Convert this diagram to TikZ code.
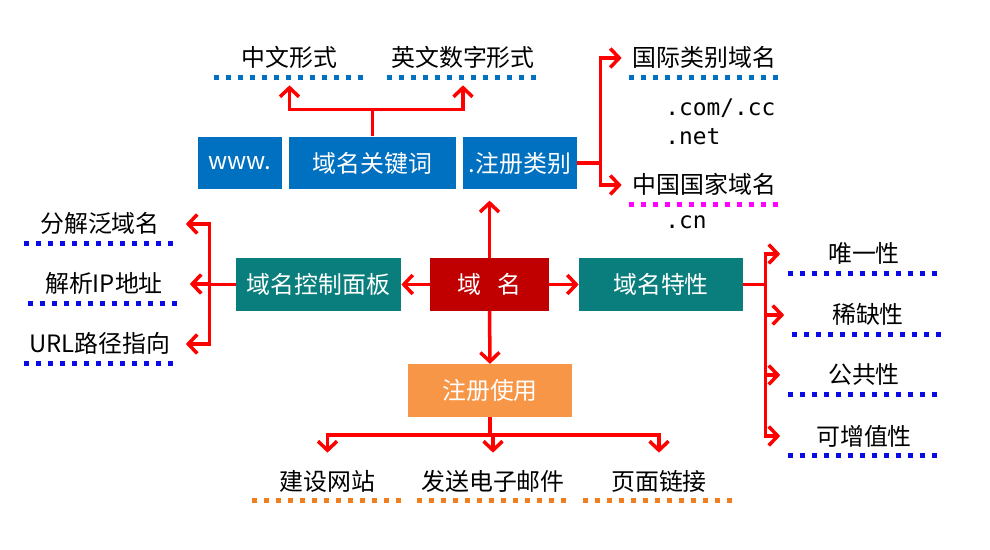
\documentclass[tikz,border=0pt]{standalone}
\usepackage{fontspec}
\setmainfont{Noto Sans CJK SC}
\newfontfamily\codefont{DejaVu Sans Mono}
\usetikzlibrary{arrows.meta}
\definecolor{kBlue}{HTML}{0070C0}
\definecolor{kTeal}{HTML}{0A7E7C}
\definecolor{kRed}{HTML}{C00000}
\definecolor{kOrange}{HTML}{F79646}
\definecolor{kArrow}{HTML}{FF0000}
\definecolor{dBlue}{HTML}{0070C0}
\definecolor{dPure}{HTML}{0A0AE6}
\definecolor{dPink}{HTML}{FF00FF}
\definecolor{dOrange}{HTML}{F07D1E}

\begin{document}
\begin{tikzpicture}[x=0.02cm, y=-0.02cm,
  box/.style={fill=#1, text=white, minimum height=1.05cm, inner sep=0pt, font=\fontsize{13.6}{16}\selectfont},
  leaf/.style={minimum width=3.02cm, inner sep=0pt, text height=0.56cm, text depth=0.2cm, font=\fontsize{13.6}{16}\selectfont},
  code/.style={anchor=west, inner sep=0pt, font=\codefont\fontsize{13}{15}\selectfont},
  link/.style={draw=kArrow, line width=2pt, -{Straight Barb[length=0.18cm,width=0.38cm]}},
  dots/.style={line width=0.1cm, dash pattern=on 0.1cm off 0.14cm}]
  \useasboundingbox (0,0) rectangle (990,550);

  % boxes
  \node[box=kBlue, minimum width=1.68cm] (www) at (240,163) {www.};
  \node[box=kBlue, minimum width=3.34cm] (gjc) at (372.5,163) {域名关键词};
  \node[box=kBlue, minimum width=2.28cm] (lb) at (520,163) {.注册类别};
  \node[box=kTeal, minimum width=3.3cm] (ctrl) at (318.5,284.5) {域名控制面板};
  \node[box=kRed, minimum width=2.38cm] (ym) at (489.5,284.5) {域\hspace{0.7em}名};
  \node[box=kTeal, minimum width=3.28cm] (tx) at (661,284.5) {域名特性};
  \node[box=kOrange, minimum width=3.28cm] (sy) at (490,390.5) {注册使用};

  % leaves
  \node[leaf] (zw) at (289.5,58) {中文形式};
  \node[leaf] (yw) at (463,58) {英文数字形式};
  \node[leaf] (gj) at (704.5,58) {国际类别域名};
  \node[leaf] (zg) at (704.5,185) {中国国家域名};
  \node[leaf] (fj) at (100,224) {分解泛域名};
  \node[leaf] (jx) at (104,284) {解析IP地址};
  \node[leaf] (url) at (100,344) {URL路径指向};
  \node[leaf] (wy) at (864,254) {唯一性};
  \node[leaf] (xq) at (868,315) {稀缺性};
  \node[leaf] (gg) at (864,375) {公共性};
  \node[leaf] (kz) at (864,436) {可增值性};
  \node[leaf] (jz) at (327.5,481) {建设网站};
  \node[leaf] (fs) at (493,481) {发送电子邮件};
  \node[leaf] (lj) at (659,481) {页面链接};

  \node[code] (com) at (665,108) {.com/.cc};
  \node[code] (net) at (665,137) {.net};
  \node[code] (cn) at (665,222) {.cn};

  \foreach \n/\c in {zw/dBlue, yw/dBlue, gj/dBlue, zg/dPink, fj/dPure, jx/dPure, url/dPure,
                     wy/dPure, xq/dPure, gg/dPure, kz/dPure, jz/dOrange, fs/dOrange, lj/dOrange}
    \draw[dots, draw=\c] (\n.south west) -- (\n.south east);

  % connectors
  \draw[link] (ym.west) -- (ctrl.east);
  \draw[link] (ym.east) -- (tx.west);
  \draw[link] (ym.south) -- (sy.north);
  \draw[link, shorten >=0.22cm] (ym.north) -- (ym.north |- lb.south);

  \foreach \t in {zw, yw}
    \draw[link, shorten >=0.16cm] (gjc.north) -- ++(0,-27) -| (\t.south);
  \foreach \t in {gj, zg}
    \draw[link, shorten >=0.14cm] (lb.east) -- ++(23,0) |- (\t.west);
  \foreach \t in {fj, jx, url}
    \draw[link, shorten >=0.2cm] (ctrl.west) -- ++(-26,0) |- (\t.east);
  \foreach \t in {wy, xq, gg, kz}
    \draw[link, shorten >=0.16cm] (tx.east) -- ++(22,0) |- (\t.west);
  \foreach \t in {jz, fs, lj}
    \draw[link, shorten >=0.18cm] (sy.south) -- ++(0,18) -| (\t.north);
\end{tikzpicture}
\end{document}
